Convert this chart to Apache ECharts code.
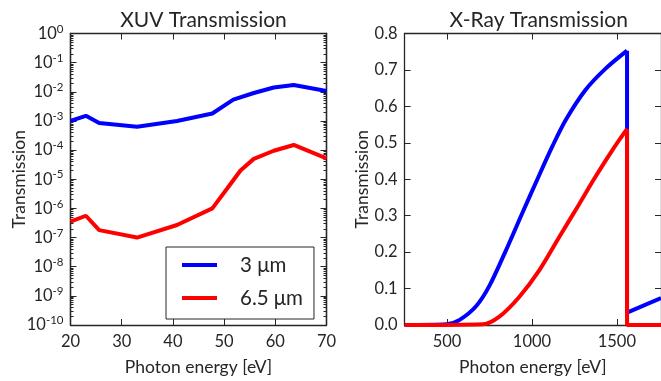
<!DOCTYPE html>
<html>
<head>
<meta charset="utf-8">
<script src="https://cdn.jsdelivr.net/npm/echarts@6/dist/echarts.min.js"></script>
<style>
  html, body { margin: 0; padding: 0; background: #fff; }
  #chart { width: 661px; height: 381px; }
</style>
</head>
<body>
<div id="chart"></div>
<script>
// XUV panel: photon energy [eV] vs. transmission for both filter thicknesses
const xuvEnergy3 = [20, 23, 25.6, 33, 40.8, 47.7, 51.8, 55.8, 59.7, 63.6, 70];
const xuvTrans3 = [1.0e-3, 1.5e-3, 8.5e-4, 6.3e-4, 1.0e-3, 1.8e-3, 5.4e-3, 9.1e-3, 1.4e-2, 1.7e-2, 1.07e-2];
const xuvEnergy65 = [20, 23, 25.6, 33, 40.8, 47.7, 50.6, 53.2, 55.8, 59.7, 63.6, 70];
const xuvTrans65 = [3.5e-7, 5.6e-7, 1.8e-7, 1.0e-7, 2.7e-7, 1.0e-6, 4.8e-6, 2.0e-5, 5.0e-5, 9.5e-5, 1.5e-4, 5.2e-5];

// X-ray panel: linear transmission rising up to the absorption edge near 1560 eV
const xrayEnergy3 = [250, 497, 574, 672, 750, 847, 944, 1030, 1120, 1198, 1315, 1432, 1560];
const xrayTrans3 = [0, 0.002, 0.014, 0.052, 0.108, 0.205, 0.308, 0.398, 0.490, 0.562, 0.645, 0.703, 0.753];
const xrayEnergy65 = [250, 711, 808, 925, 1042, 1159, 1276, 1365, 1471, 1560];
const xrayTrans65 = [0, 0.002, 0.023, 0.077, 0.149, 0.240, 0.330, 0.400, 0.478, 0.538];
// drop at the edge and what follows it
const xrayEdgeEnergy3 = [1560, 1560, 1760];
const xrayEdgeTrans3 = [0.753, 0.034, 0.074];
const xrayEdgeEnergy65 = [1560, 1560, 1760];
const xrayEdgeTrans65 = [0.538, 0, 0];

const seriesNames = ['3 μm', '6.5 μm'];
const panelTitles = ['XUV Transmission', 'X-Ray Transmission'];
const xAxisName = 'Photon energy [eV]';
const yAxisName = 'Transmission';

// tick labels
const xuvEnergyTicks = [20, 30, 40, 50, 60, 70];
const xuvExponents = [-10, -9, -8, -7, -6, -5, -4, -3, -2, -1, 0];
const xrayEnergyTicks = [500, 1000, 1500];
const xrayTransTicks = [0, 0.1, 0.2, 0.3, 0.4, 0.5, 0.6, 0.7, 0.8];

const FONT = 'Lato';
const INK = '#262626';
const BLUE = '#0000ff';
const RED = '#ff0000';

const decadeValues = xuvExponents.map(e => Math.pow(10, e));
const minorLogValues = [];
for (let i = 0; i < xuvExponents.length - 1; i++) {
  for (let k = 2; k <= 9; k++) minorLogValues.push(k * Math.pow(10, xuvExponents[i]));
}

const zip = (xs, ys) => xs.map((x, i) => [x, ys[i]]);

const axisLine = { show: true, onZero: false, lineStyle: { color: INK, width: 1.3 } };
const majorTick = (vals) => ({ show: true, inside: true, length: 6, customValues: vals, lineStyle: { color: INK, width: 1 } });
const minorTickAx = (vals) => ({ show: true, inside: true, length: 3, customValues: vals, lineStyle: { color: INK, width: 1 } });
const noLabel = { show: false };
const labelStyle = { color: INK, fontFamily: FONT, fontSize: 16.5 };
const nameStyle = { color: INK, fontFamily: FONT, fontSize: 17.5 };

const logY = (extra) => Object.assign({
  type: 'log', logBase: 10, min: 1e-10, max: 1, gridIndex: 0,
  axisLine: axisLine, splitLine: { show: false }
}, extra);

const lineSeries = (name, xi, yi, xs, ys, color, smooth) => ({
  name: name, type: 'line', xAxisIndex: xi, yAxisIndex: yi, data: zip(xs, ys),
  showSymbol: false, clip: false, smooth: smooth,
  lineStyle: { color: color, width: 4 }, itemStyle: { color: color }
});

const titleStyle = { color: INK, fontFamily: FONT, fontSize: 21, fontWeight: 'normal' };

const option = {
  animation: false,
  backgroundColor: '#fff',
  title: [
    { text: panelTitles[0], left: 198.5, top: 5, textAlign: 'center', textStyle: titleStyle },
    { text: panelTitles[1], left: 533.7, top: 5, textAlign: 'center', textStyle: titleStyle }
  ],
  legend: {
    data: seriesNames,
    orient: 'vertical',
    left: 166, top: 247,
    padding: [7, 11, 10, 16],
    itemWidth: 35, itemHeight: 4, itemGap: 11,
    icon: 'rect',
    borderColor: INK, borderWidth: 1, borderRadius: 0,
    backgroundColor: '#fff',
    textStyle: { color: INK, fontFamily: FONT, fontSize: 20.5, lineHeight: 22, padding: [0, 0, 0, 18] }
  },
  grid: [
    { left: 70.5, top: 33.5, width: 256, height: 295 },
    { left: 404.6, top: 33.5, width: 258.2, height: 295 }
  ],
  xAxis: [
    { type: 'value', gridIndex: 0, min: 20, max: 70, interval: 10, position: 'bottom',
      axisLine: axisLine, axisTick: majorTick(xuvEnergyTicks), splitLine: { show: false },
      axisLabel: Object.assign({ margin: 8, customValues: xuvEnergyTicks, formatter: v => String(v) }, labelStyle),
      name: xAxisName, nameLocation: 'middle', nameGap: 33, nameMoveOverlap: false, nameTextStyle: nameStyle },
    { type: 'value', gridIndex: 0, min: 20, max: 70, interval: 10, position: 'top',
      axisLine: axisLine, axisTick: majorTick(xuvEnergyTicks), splitLine: { show: false }, axisLabel: noLabel },
    { type: 'value', gridIndex: 1, min: 250, max: 1760, position: 'bottom',
      axisLine: axisLine, axisTick: majorTick(xrayEnergyTicks), splitLine: { show: false },
      axisLabel: Object.assign({ margin: 8, customValues: xrayEnergyTicks, formatter: v => String(v) }, labelStyle),
      name: xAxisName, nameLocation: 'middle', nameGap: 33, nameMoveOverlap: false, nameTextStyle: nameStyle },
    { type: 'value', gridIndex: 1, min: 250, max: 1760, position: 'top',
      axisLine: axisLine, axisTick: majorTick(xrayEnergyTicks), splitLine: { show: false }, axisLabel: noLabel }
  ],
  yAxis: [
    logY({ position: 'left', axisTick: majorTick(decadeValues),
      axisLabel: Object.assign({
        margin: 7, customValues: decadeValues,
        formatter: v => '10{sup|' + Math.round(Math.log10(v)) + '}',
        rich: { sup: { fontFamily: FONT, fontSize: 11.5, color: INK, padding: [0, 0, 9, 0] } }
      }, labelStyle),
      name: yAxisName, nameLocation: 'middle', nameGap: 42, nameMoveOverlap: false, nameTextStyle: nameStyle }),
    logY({ position: 'left', axisTick: minorTickAx(minorLogValues), axisLabel: noLabel }),
    logY({ position: 'right', axisTick: majorTick(decadeValues), axisLabel: noLabel }),
    logY({ position: 'right', axisTick: minorTickAx(minorLogValues), axisLabel: noLabel }),
    { type: 'value', gridIndex: 1, min: 0, max: 0.8, interval: 0.1, position: 'left',
      axisLine: axisLine, axisTick: majorTick(xrayTransTicks), splitLine: { show: false },
      axisLabel: Object.assign({ margin: 7, customValues: xrayTransTicks, formatter: v => v.toFixed(1) }, labelStyle),
      name: yAxisName, nameLocation: 'middle', nameGap: 33, nameMoveOverlap: false, nameTextStyle: nameStyle },
    { type: 'value', gridIndex: 1, min: 0, max: 0.8, interval: 0.1, position: 'right',
      axisLine: axisLine, axisTick: majorTick(xrayTransTicks), splitLine: { show: false }, axisLabel: noLabel }
  ],
  series: [
    lineSeries(seriesNames[0], 0, 0, xuvEnergy3, xuvTrans3, BLUE, false),
    lineSeries(seriesNames[1], 0, 0, xuvEnergy65, xuvTrans65, RED, false),
    lineSeries(seriesNames[0], 2, 4, xrayEnergy3, xrayTrans3, BLUE, 0.3),
    lineSeries(seriesNames[0], 2, 4, xrayEdgeEnergy3, xrayEdgeTrans3, BLUE, false),
    lineSeries(seriesNames[1], 2, 4, xrayEnergy65, xrayTrans65, RED, 0.3),
    lineSeries(seriesNames[1], 2, 4, xrayEdgeEnergy65, xrayEdgeTrans65, RED, false)
  ]
};

const chart = echarts.init(document.getElementById('chart'), null, { renderer: 'canvas' });
chart.setOption(option);
</script>
</body>
</html>
